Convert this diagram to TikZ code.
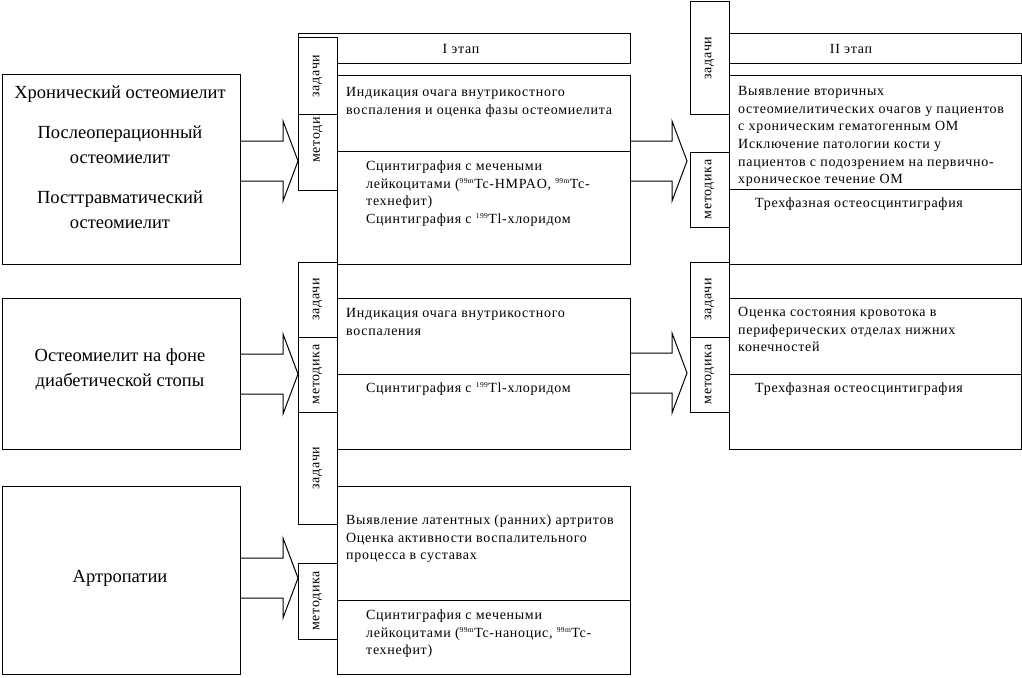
\documentclass[tikz,border=0pt]{standalone}
\usepackage{fontspec}
\setmainfont{Liberation Serif}
\newfontfamily\spaced{Liberation Serif}[LetterSpace=5]
\usetikzlibrary{calc}
\newcommand\bx[5]{\node[box, minimum width={#4pt-#2pt}, minimum height={#5pt-#3pt}] (#1) at (#2,#3) {};}
\newcommand\blockarr[2]{\draw[blk] let \p1=(#1), \p2=(#2) in (\x1,\y1+20pt) -- (\x2-15pt,\y1+20pt) -- (\x2-15pt,\y1+40pt) -- (\x2,\y1) -- (\x2-15pt,\y1-40pt) -- (\x2-15pt,\y1-20pt) -- (\x1,\y1-20pt);}
\newcommand\isot[1]{\textsuperscript{\fontsize{7.5}{7.5}\selectfont #1}}
\begin{document}
\begin{tikzpicture}[x=1pt,y=-1pt,
  box/.style={draw, fill=white, line width=1pt, inner sep=0pt, outer sep=0pt, anchor=north west},
  txt/.style={anchor=north west, inner sep=0pt, align=left, font=\spaced\fontsize{14}{17.6}\selectfont},
  big/.style={anchor=north, inner sep=0pt, align=center, font=\fontsize{18.5}{25}\selectfont},
  vlab/.style={rotate=90, inner sep=0pt, font=\spaced\fontsize{14}{15}\selectfont},
  stage/.style={inner sep=0pt, font=\spaced\fontsize{14}{15}\selectfont},
  blk/.style={draw, line width=1pt, line join=miter}]
\useasboundingbox (0,0) rectangle (1022,677);
% left boxes
\bx{L1}{2}{74}{240}{264}
\bx{L2}{2}{298}{240}{449}
\bx{L3}{2}{486}{240}{674}
% middle column
\bx{S1}{298}{34}{630}{64}
\bx{T1}{337}{75}{630}{151}
\bx{P1}{337}{151}{630}{264}
\bx{T2}{337}{298}{630}{374}
\bx{P2}{337}{374}{630}{449}
\bx{T3}{337}{486}{630}{600}
\bx{P3}{337}{600}{630}{674}
% right column
\bx{S2}{729}{34}{1021}{64}
\bx{T4}{729}{75}{1021}{189}
\bx{P4}{729}{189}{1021}{264}
\bx{T5}{729}{298}{1021}{374}
\bx{P5}{729}{374}{1021}{449}
% narrow label boxes
\bx{M1}{298}{114}{337}{190}
\node[vlab] (M1l) at (318,133) {методика};
\bx{Z1}{298}{38}{337}{114}
\node[vlab] (Z1l) at (Z1.center) {задачи};
\bx{Z2}{298}{262}{337}{337}
\node[vlab] (Z2l) at (Z2.center) {задачи};
\bx{M2}{298}{337}{337}{412}
\node[vlab] (M2l) at (M2.center) {методика};
\bx{Z3}{298}{412}{337}{524}
\node[vlab] (Z3l) at (Z3.center) {задачи};
\bx{M3}{298}{563}{337}{639}
\node[vlab] (M3l) at (M3.center) {методика};
\bx{Z4}{690}{2}{729}{114}
\node[vlab] (Z4l) at (Z4.center) {задачи};
\bx{M4}{690}{152}{729}{227}
\node[vlab] (M4l) at (M4.center) {методика};
\bx{Z5}{690}{262}{729}{337}
\node[vlab] (Z5l) at (Z5.center) {задачи};
\bx{M5}{690}{337}{729}{412}
\node[vlab] (M5l) at (M5.center) {методика};
% block arrows
\blockarr{L1.east |- 0,161}{M1.west |- 0,161}
\blockarr{L2.east |- 0,374}{M2.west |- 0,374}
\blockarr{L3.east |- 0,578}{M3.west |- 0,578}
\blockarr{T1.east |- 0,161}{687,161}
\blockarr{T2.east |- 0,373}{687,373}
% left texts
\node[big] (L1t) at (120,80.5) {\strut Хронический остеомиелит\\[15pt]Послеоперационный\\остеомиелит\\[15pt]Посттравматический\\остеомиелит};
\node[big] (L2t) at (120,343.5) {\strut Остеомиелит на фоне\\диабетической стопы};
\node[big] (L3t) at (120,564.5) {\strut Артропатии};
% stage labels
\node[stage] (S1t) at (461,49) {I этап};
\node[stage] (S2t) at (851,49) {II этап};
% middle texts
\node[txt] (T1t) at (346,84.2) {\strut Индикация очага внутрикостного\\воспаления и оценка фазы остеомиелита};
\node[txt] (P1t) at (366,158.2) {\strut Сцинтиграфия с мечеными\\лейкоцитами (\isot{99m}Tc-HMPAO, \isot{99m}Tc-\\технефит)\\Сцинтиграфия с \isot{199}Tl-хлоридом};
\node[txt] (T2t) at (346,305.2) {\strut Индикация очага внутрикостного\\воспаления};
\node[txt] (P2t) at (366,380.2) {\strut Сцинтиграфия с \isot{199}Tl-хлоридом};
\node[txt] (T3t) at (346,512.2) {\strut Выявление латентных (ранних) артритов\\Оценка активности воспалительного\\процесса в суставах};
\node[txt] (P3t) at (366,607.2) {\strut Сцинтиграфия с мечеными\\лейкоцитами (\isot{99m}Tc-наноцис, \isot{99m}Tc-\\технефит)};
% right texts
\node[txt] (T4t) at (738,83.2) {\strut Выявление вторичных\\остеомиелитических очагов у пациентов\\с хроническим гематогенным ОМ\\Исключение патологии кости у\\пациентов с подозрением на первично-\\хроническое течение ОМ};
\node[txt] (P4t) at (755,195.2) {\strut Трехфазная остеосцинтиграфия};
\node[txt] (T5t) at (738,304.2) {\strut Оценка состояния кровотока в\\периферических отделах нижних\\конечностей};
\node[txt] (P5t) at (755,380.2) {\strut Трехфазная остеосцинтиграфия};
\end{tikzpicture}
\end{document}
